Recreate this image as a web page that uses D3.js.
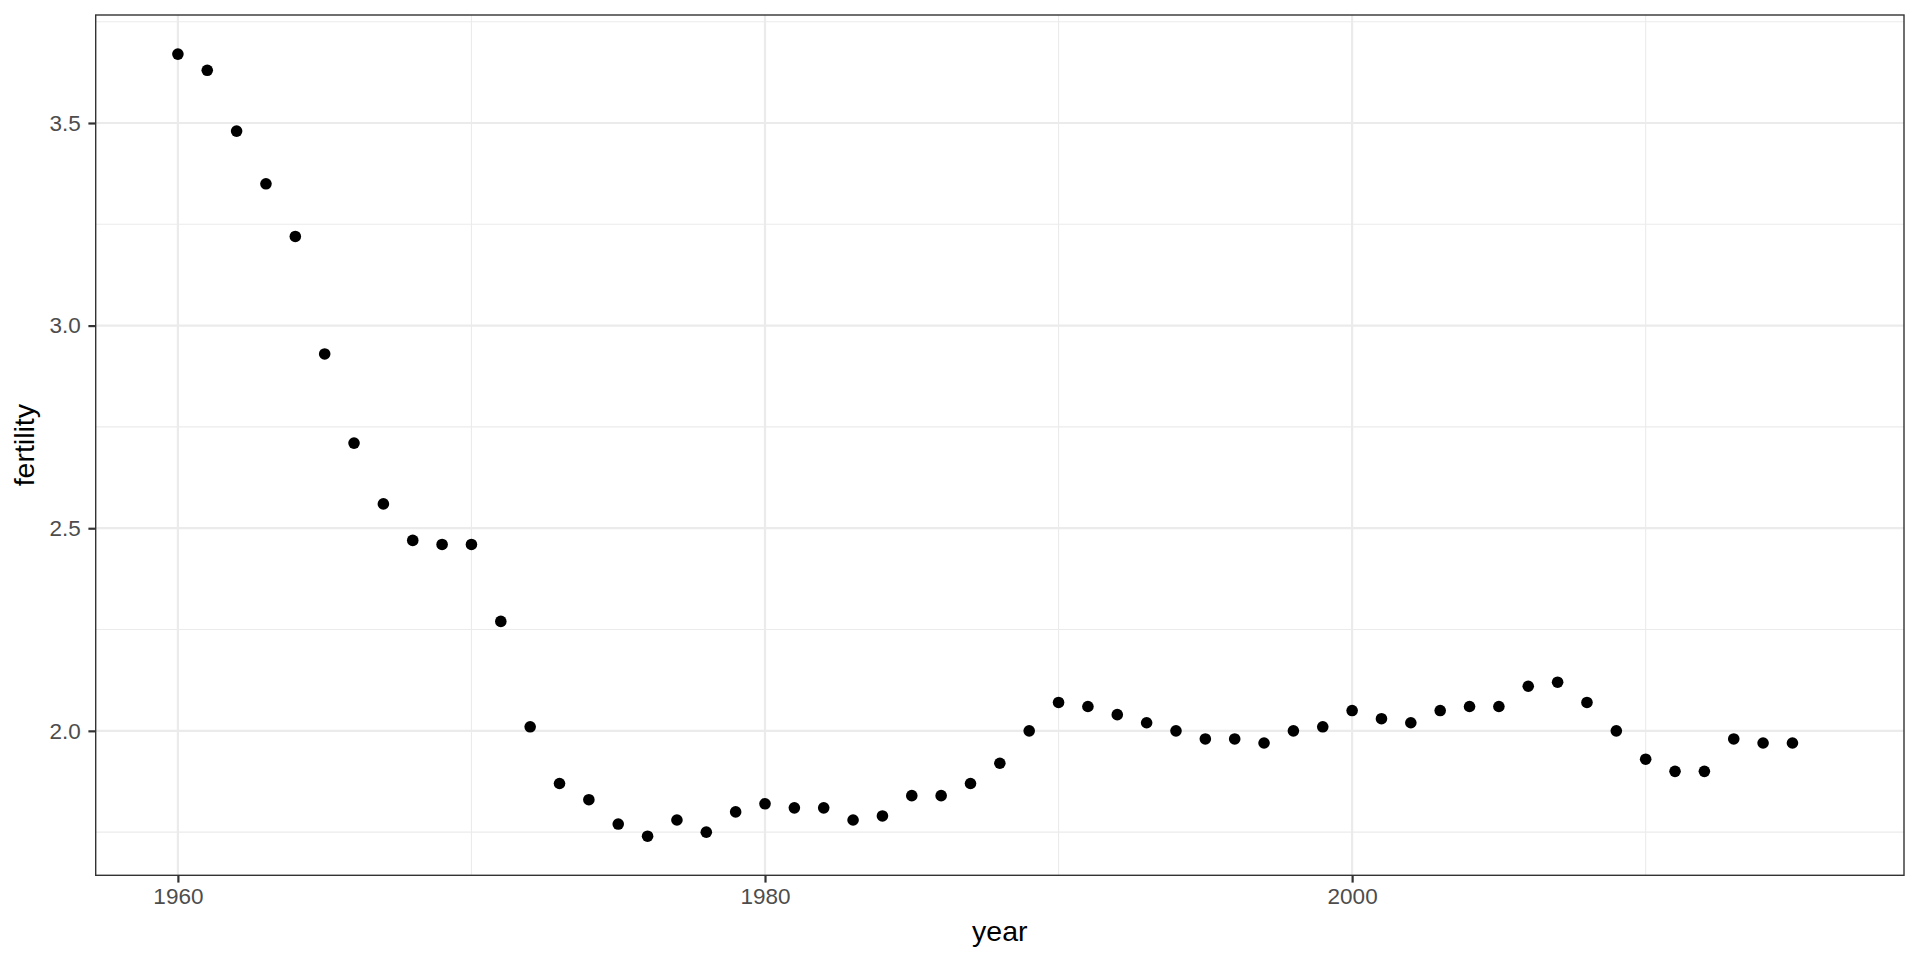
<!DOCTYPE html>
<html>
<head>
<meta charset="utf-8">
<script src="https://cdn.jsdelivr.net/npm/d3@7"></script>
<style>
  html, body { margin: 0; padding: 0; background: #fff; }
  svg { display: block; font-family: "Liberation Sans", Arial, Helvetica, sans-serif; }
</style>
</head>
<body>
<svg id="chart" width="1920" height="960"></svg>
<script>
const years = [1960,1961,1962,1963,1964,1965,1966,1967,1968,1969,1970,1971,1972,1973,1974,1975,1976,1977,1978,1979,1980,1981,1982,1983,1984,1985,1986,1987,1988,1989,1990,1991,1992,1993,1994,1995,1996,1997,1998,1999,2000,2001,2002,2003,2004,2005,2006,2007,2008,2009,2010,2011,2012,2013,2014,2015];
const fertility = [3.67,3.63,3.48,3.35,3.22,2.93,2.71,2.56,2.47,2.46,2.46,2.27,2.01,1.87,1.83,1.77,1.74,1.78,1.75,1.80,1.82,1.81,1.81,1.78,1.79,1.84,1.84,1.87,1.92,2.00,2.07,2.06,2.04,2.02,2.00,1.98,1.98,1.97,2.00,2.01,2.05,2.03,2.02,2.05,2.06,2.06,2.11,2.12,2.07,2.00,1.93,1.90,1.90,1.98,1.97,1.97];
const yearRange = [1960, 2016];
const xTicks = [1960, 1980, 2000];
const xMinor = [1970, 1990, 2010];
const yTicks = [2.0, 2.5, 3.0, 3.5];
const yMinor = [1.75, 2.25, 2.75, 3.25, 3.75];
const xLabel = "year";
const yLabel = "fertility";

const svg = d3.select("#chart");
const panel = { left: 95.7, top: 15, right: 1904, bottom: 875.3 };

const xr = yearRange[1] - yearRange[0];
const x = d3.scaleLinear()
  .domain([yearRange[0] - 0.05 * xr, yearRange[1] + 0.05 * xr])
  .range([panel.left, panel.right]);
const [ymin, ymax] = d3.extent(fertility);
const yr = ymax - ymin;
const y = d3.scaleLinear()
  .domain([ymin - 0.05 * yr, ymax + 0.05 * yr])
  .range([panel.bottom, panel.top]);

svg.append("rect")
  .attr("x", panel.left).attr("y", panel.top)
  .attr("width", panel.right - panel.left).attr("height", panel.bottom - panel.top)
  .attr("fill", "#fff");

const grid = svg.append("g");
grid.selectAll(".ymin").data(yMinor.filter(v => y(v) > panel.top && y(v) < panel.bottom)).join("line")
  .attr("x1", panel.left).attr("x2", panel.right)
  .attr("y1", d => y(d)).attr("y2", d => y(d))
  .attr("stroke", "#EBEBEB").attr("stroke-width", 1.1);
grid.selectAll(".xmin").data(xMinor).join("line")
  .attr("y1", panel.top).attr("y2", panel.bottom)
  .attr("x1", d => x(d)).attr("x2", d => x(d))
  .attr("stroke", "#EBEBEB").attr("stroke-width", 1.1);
grid.selectAll(".ymaj").data(yTicks).join("line")
  .attr("x1", panel.left).attr("x2", panel.right)
  .attr("y1", d => y(d)).attr("y2", d => y(d))
  .attr("stroke", "#EBEBEB").attr("stroke-width", 2.2);
grid.selectAll(".xmaj").data(xTicks).join("line")
  .attr("y1", panel.top).attr("y2", panel.bottom)
  .attr("x1", d => x(d)).attr("x2", d => x(d))
  .attr("stroke", "#EBEBEB").attr("stroke-width", 2.2);

svg.append("g").selectAll("circle").data(years.map((yy, i) => ({ year: yy, f: fertility[i] }))).join("circle")
  .attr("cx", d => x(d.year)).attr("cy", d => y(d.f))
  .attr("r", 5.8).attr("fill", "#000");

svg.append("rect")
  .attr("x", panel.left).attr("y", panel.top)
  .attr("width", panel.right - panel.left).attr("height", panel.bottom - panel.top)
  .attr("fill", "none").attr("stroke", "#333333").attr("stroke-width", 1.4);

const xAxis = d3.axisBottom(x).tickValues(xTicks).tickFormat(d3.format("d")).tickSizeOuter(0).tickSize(7.3).tickPadding(5.4);
const gx = svg.append("g").attr("transform", `translate(0,${panel.bottom})`).call(xAxis);
gx.select(".domain").remove();
gx.selectAll(".tick line").attr("stroke", "#333333").attr("stroke-width", 2.2);
gx.selectAll(".tick text").attr("fill", "#4D4D4D").attr("font-size", 22.5).attr("dy", "0.71em");

const yAxis = d3.axisLeft(y).tickValues(yTicks).tickFormat(d3.format(".1f")).tickSizeOuter(0).tickSize(7.3).tickPadding(7.6);
const gy = svg.append("g").attr("transform", `translate(${panel.left},0)`).call(yAxis);
gy.select(".domain").remove();
gy.selectAll(".tick line").attr("stroke", "#333333").attr("stroke-width", 2.2);
gy.selectAll(".tick text").attr("fill", "#4D4D4D").attr("font-size", 22.5);

svg.append("text")
  .attr("x", (panel.left + panel.right) / 2).attr("y", 940.7)
  .attr("text-anchor", "middle").attr("font-size", 28.5).attr("fill", "#000")
  .text(xLabel);
svg.append("text")
  .attr("transform", `translate(33.5,${(panel.top + panel.bottom) / 2}) rotate(-90)`)
  .attr("text-anchor", "middle").attr("font-size", 28.5).attr("fill", "#000")
  .text(yLabel);
</script>
</body>
</html>
